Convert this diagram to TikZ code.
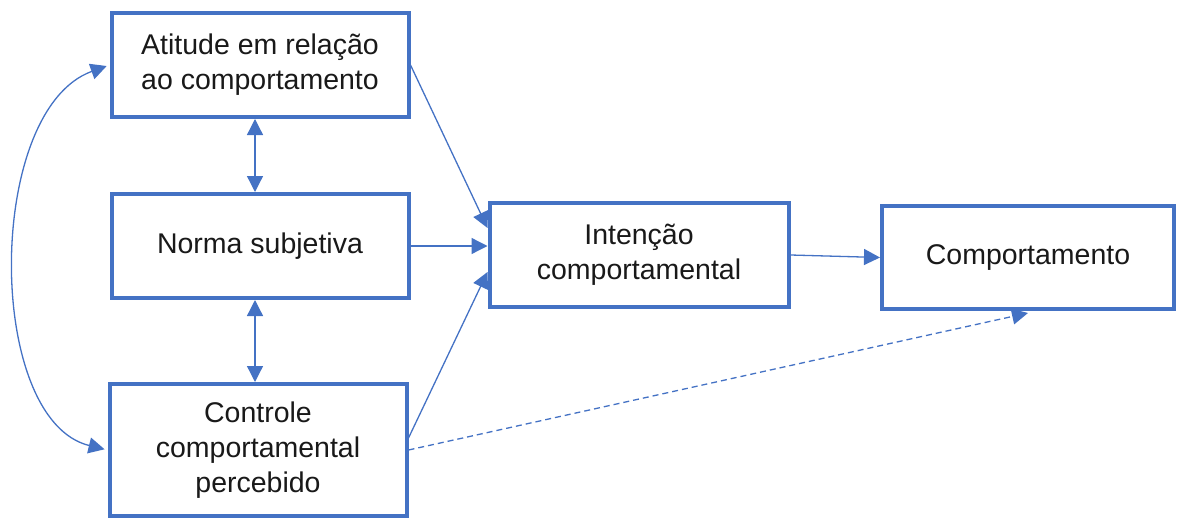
\documentclass[tikz,border=0pt]{standalone}
\usepackage{fontspec}
\setmainfont{Liberation Sans}
\usetikzlibrary{arrows.meta,calc}
\definecolor{blu}{HTML}{4472C4}
\begin{document}
\begin{tikzpicture}[x=1pt,y=-1pt,
  box/.style={draw=blu,line width=4pt,fill=white,inner sep=0pt,align=center,
    font=\fontsize{28.5}{35}\selectfont,text=black!90},
  conn/.style={draw=blu,line width=1.3pt,-{Triangle[length=16pt,width=16pt]}},
  dconn/.style={conn,{Triangle[length=16pt,width=16pt]}-{Triangle[length=16pt,width=16pt]}},
]
\useasboundingbox (0,0) rectangle (1178,519);
\node[box,minimum width=297pt,minimum height=104pt] (A) at (260,65) {Atitude em relação\\ao comportamento};
\node[box,minimum width=297pt,minimum height=104pt] (N) at (260,246) {Norma subjetiva};
\node[box,minimum width=297pt,minimum height=132pt] (C) at (258,450) {Controle\\comportamental\\percebido};
\node[box,minimum width=299pt,minimum height=104pt] (I) at (639,255) {Intenção\\comportamental};
\node[box,minimum width=292pt,minimum height=103pt] (K) at (1028,257.5) {Comportamento};

\draw[dconn] ([xshift=-5pt]A.south) -- ([xshift=-5pt]A.south |- N.north);
\draw[dconn] ([xshift=-5pt]N.south) -- ([xshift=-5pt]N.south |- C.north);
\draw[conn] (A.east) -- ([yshift=27pt]I.west);
\draw[conn] (N.east) -- (N.east -| I.west);
\draw[conn] ([yshift=12pt]C.east) -- ([yshift=-17pt]I.west);
\draw[conn] (I.east) -- (K.west);
\draw[conn,dashed,dash pattern=on 6pt off 4pt] (C.east) -- ([yshift=-2pt]K.south);
\draw[dconn,shorten <=3pt,shorten >=3pt] (C.west) .. controls (-15,420) and (-15,110) .. (A.west);
\end{tikzpicture}
\end{document}
